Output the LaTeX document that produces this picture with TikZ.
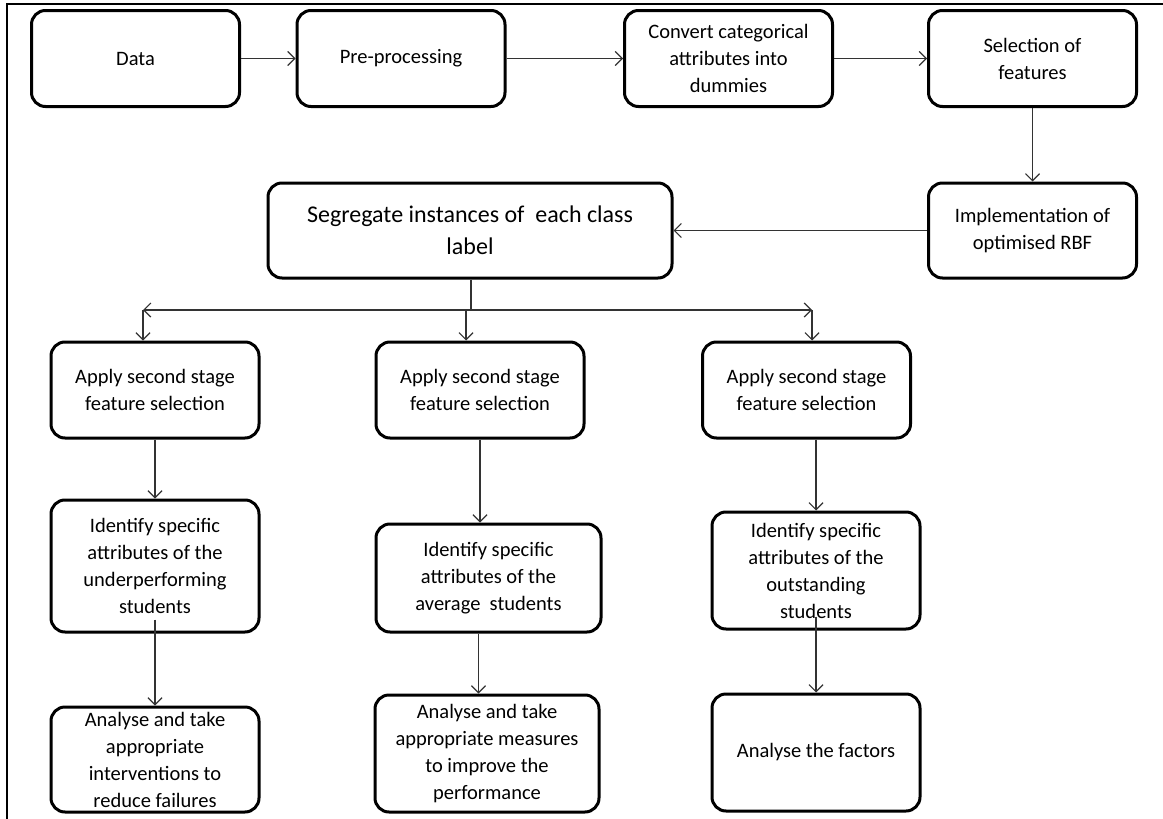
\documentclass[tikz,border=0pt]{standalone}
\usepackage{fontspec}
\setmainfont{Carlito}
\usepackage{tikz}
\usetikzlibrary{arrows.meta, positioning, calc}
\tikzset{
    stage/.style={
        rectangle,
        rounded corners=14pt,
        line width=3pt,
        draw=black,
        fill=white,
        align=center,
        inner sep=1pt,
        font=\fontsize{20.5}{27}\selectfont,
        minimum width=208pt,
        minimum height=96pt,
    },
    flow/.style={
        draw=black!80,
        line width=1.2pt,
    },
}

\begin{document}
\begin{tikzpicture}[x=1pt, y=-1pt, on grid, >={Straight Barb[length=7pt,width=14pt]}]
      \useasboundingbox (0,0) rectangle (1163,819);
      \draw[line width=1.6pt] (7,819) -- (7,4) -- (1163,4);

      \node[stage] (data) at (135.5,58.5) {Data};

      \node[stage, right=265.5pt of data] (prep) {Pre-processing};

      \node[stage, right=327.5pt of prep] (conv) {Convert categorical\\attributes into\\dummies};

      \node[stage, right=304pt of conv] (sel) {Selection of\\features};

      \node[stage, below=172pt of sel, minimum height=95pt] (impl) {Implementation of\\optimised RBF};

      \node[stage, left=562.5pt of impl, minimum width=404pt, minimum height=95pt,
            font=\fontsize{24}{32}\selectfont] (seg) {Segregate instances of~ each class\\label};

      \node[stage, at={(155,390)}] (apply1) {Apply second stage\\feature selection};
      \node[stage, right=325pt of apply1] (apply2) {Apply second stage\\feature selection};
      \node[stage, right=326.5pt of apply2] (apply3) {Apply second stage\\feature selection};

      \node[stage, below=176pt of apply1, minimum height=132pt] (ident1) {Identify specific\\attributes of the\\underperforming\\students};
      \node[stage, below=188pt of apply2, xshift=8.5pt, minimum width=225pt, minimum height=108pt] (ident2) {Identify specific\\attributes of the\\average~ students};
      \node[stage, below=180.5pt of apply3, xshift=9.5pt, minimum height=117pt] (ident3) {Identify specific\\attributes of the\\outstanding\\students};

      \node[stage, below=193.5pt of ident1, minimum height=105pt] (ana1) {Analyse and take\\appropriate\\interventions to\\reduce failures};
      \node[stage, below=175.5pt of ident2, xshift=-1.5pt, minimum width=224pt, minimum height=117pt] (ana2) {Analyse and take\\appropriate measures\\to improve the\\performance};
      \node[stage, below=182pt of ident3, minimum height=117pt] (ana3) {Analyse the factors};

      % top row
      \draw[flow, ->] (data) -- (prep);
      \draw[flow, ->] (prep) -- (conv);
      \draw[flow, ->] (conv) -- (sel);
      \draw[flow, ->] (sel) -- (impl);
      \draw[flow, ->] (impl) -- (seg);

      % split into the three classes
      \coordinate (split) at (471,310);
      \coordinate (splitl) at (143,310);
      \coordinate (splitr) at (812,310);
      \draw[flow] (split |- seg.south) -- (split);
      \draw[flow, ->] (split) -- (splitl);
      \draw[flow, ->] (split) -- (splitr);
      \draw[flow, ->] (splitl) -- (splitl |- apply1.north);
      \draw[flow, ->] ([xshift=-5pt]split) -- ([xshift=-5pt]split |- apply2.north);
      \draw[flow, ->] (splitr) -- (splitr |- apply3.north);

      % columns
      \draw[flow, ->] (apply1.south) -- (ident1.north);
      \draw[flow, ->] (apply2.south) -- (apply2.south |- ident2.north);
      \draw[flow, ->] (apply3.south -| ident3.north) -- (ident3.north);

      \draw[flow, ->] ([yshift=14pt]ident1.south) -- (ana1.north);
      \draw[flow, ->] ([xshift=-10pt]ident2.south) -- ([xshift=-10pt]ident2.south |- ana2.north);
      \draw[flow, ->] ([yshift=14pt]ident3.south) -- (ana3.north);

    \end{tikzpicture}
\end{document}
